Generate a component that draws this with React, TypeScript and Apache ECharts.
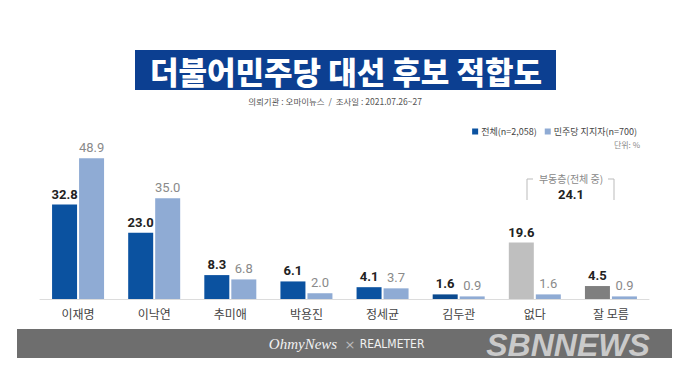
import React, { useEffect, useRef } from "react";
import * as echarts from "echarts";

const categories = ["이재명", "이낙연", "추미애", "박용진", "정세균", "김두관", "없다", "잘 모름"];
const totalValues = [32.8, 23.0, 8.3, 6.1, 4.1, 1.6, 19.6, 4.5];
const supporterValues = [48.9, 35.0, 6.8, 2.0, 3.7, 0.9, 1.6, 0.9];
const totalColors = ["#0b52a0", "#0b52a0", "#0b52a0", "#0b52a0", "#0b52a0", "#0b4a8f", "#bfbfbf", "#7f7f7f"];
const seriesNames = ["전체(n=2,058)", "민주당 지지자(n=700)"];
const floatingLabel = "부동층(전체 중)";
const floatingValue = "24.1";

const FONT = "'Noto Sans CJK KR', 'Noto Sans', sans-serif";

export default function App() {
  const ref = useRef<HTMLDivElement>(null);
  useEffect(() => {
    if (!ref.current) return;
    const chart = echarts.init(ref.current, null, { renderer: "svg" });
    chart.setOption({
      animation: false,
      backgroundColor: "#ffffff",
      textStyle: { fontFamily: FONT },
      legend: {
        top: 122,
        right: 38,
        itemWidth: 6,
        itemHeight: 6,
        itemGap: 8,
        icon: "rect",
        textStyle: { fontSize: 9, color: "#444", fontFamily: FONT, padding: [0, 0, 0, -2] },
        data: seriesNames,
      },
      grid: { left: 40, right: 31, top: 155, bottom: 77 },
      xAxis: {
        type: "category",
        data: categories,
        axisLine: { lineStyle: { color: "#dcdcdc", width: 1 } },
        axisTick: { show: false },
        axisLabel: { color: "#444", fontSize: 12, margin: 8, fontFamily: FONT },
      },
      yAxis: {
        type: "value",
        min: 0,
        max: 50,
        show: false,
        splitLine: { show: false },
      },
      series: [
        {
          name: seriesNames[0],
          type: "bar",
          barWidth: 25,
          barGap: "8%",
          itemStyle: { color: "#0b52a0" },
          data: totalValues.map((v, i) => ({ value: v, itemStyle: { color: totalColors[i] } })),
          label: {
            show: true,
            position: "top",
            distance: 4,
            formatter: (p: any) => p.value.toFixed(1),
            color: "#222",
            fontWeight: "bold",
            fontSize: 13,
            fontFamily: "Roboto, 'Noto Sans', sans-serif",
          },
        },
        {
          name: seriesNames[1],
          type: "bar",
          barWidth: 25,
          itemStyle: { color: "#8fabd4" },
          data: supporterValues,
          label: {
            show: true,
            position: "top",
            distance: 4,
            formatter: (p: any) => p.value.toFixed(1),
            color: "#8a8a8a",
            fontSize: 13,
            fontFamily: "Roboto, 'Noto Sans', sans-serif",
          },
        },
      ],
      graphic: [
        {
          type: "rect",
          shape: { x: 135, y: 50, width: 421, height: 40 },
          style: { fill: "#0c3f91" },
        },
        {
          type: "text",
          x: 346,
          y: 70,
          style: {
            text: "더불어민주당 대선 후보 적합도",
            fill: "#ffffff",
            font: `900 31px ${FONT}`,
            textAlign: "center",
            textVerticalAlign: "middle",
          },
        },
        {
          type: "text",
          x: 335,
          y: 101,
          style: {
            text: "의뢰기관 : 오마이뉴스  /  조사일 : 2021.07.26~27",
            fill: "#555",
            font: `8.5px ${FONT}`,
            textAlign: "center",
            textVerticalAlign: "middle",
          },
        },
        {
          type: "text",
          x: 640,
          y: 144,
          style: {
            text: "단위: %",
            fill: "#888",
            font: `8px ${FONT}`,
            textAlign: "right",
            textVerticalAlign: "middle",
          },
        },
        {
          type: "polyline",
          shape: { points: [[533, 179], [527, 179], [527, 200]] },
          style: { stroke: "#bbbbbb", lineWidth: 1, fill: null },
        },
        {
          type: "polyline",
          shape: { points: [[608, 179], [614, 179], [614, 200]] },
          style: { stroke: "#bbbbbb", lineWidth: 1, fill: null },
        },
        {
          type: "text",
          x: 571,
          y: 178,
          style: {
            text: floatingLabel,
            fill: "#888",
            font: `10px ${FONT}`,
            textAlign: "center",
            textVerticalAlign: "middle",
          },
        },
        {
          type: "text",
          x: 571,
          y: 194,
          style: {
            text: floatingValue,
            fill: "#222",
            font: "bold 13px Roboto, 'Noto Sans', sans-serif",
            textAlign: "center",
            textVerticalAlign: "middle",
          },
        },
        {
          type: "rect",
          shape: { x: 17, y: 329, width: 655, height: 29 },
          style: { fill: "#6e6e6e" },
        },
        {
          type: "text",
          x: 303,
          y: 344,
          style: {
            text: "OhmyNews",
            fill: "#f2f2f2",
            font: "italic 15px 'Liberation Serif', serif",
            textAlign: "center",
            textVerticalAlign: "middle",
          },
        },
        {
          type: "text",
          x: 350,
          y: 344,
          style: {
            text: "×",
            fill: "#bbbbbb",
            font: "13px 'DejaVu Sans', sans-serif",
            textAlign: "center",
            textVerticalAlign: "middle",
          },
        },
        {
          type: "text",
          x: 392,
          y: 344,
          style: {
            text: "REALMETER",
            fill: "#f2f2f2",
            font: "12px 'Liberation Sans Narrow', 'DejaVu Sans Condensed', sans-serif",
            textAlign: "center",
            textVerticalAlign: "middle",
          },
        },
        {
          type: "text",
          x: 568,
          y: 345,
          style: {
            text: "SBNNEWS",
            fill: "#cacaca",
            font: "italic bold 32px 'Liberation Sans', sans-serif",
            textAlign: "center",
            textVerticalAlign: "middle",
          },
        },
      ],
    });
    return () => chart.dispose();
  }, []);
  return (
    <div
      ref={ref}
      style={{ position: "fixed", left: 0, top: 0, width: 680, height: 376 }}
    />
  );
}
